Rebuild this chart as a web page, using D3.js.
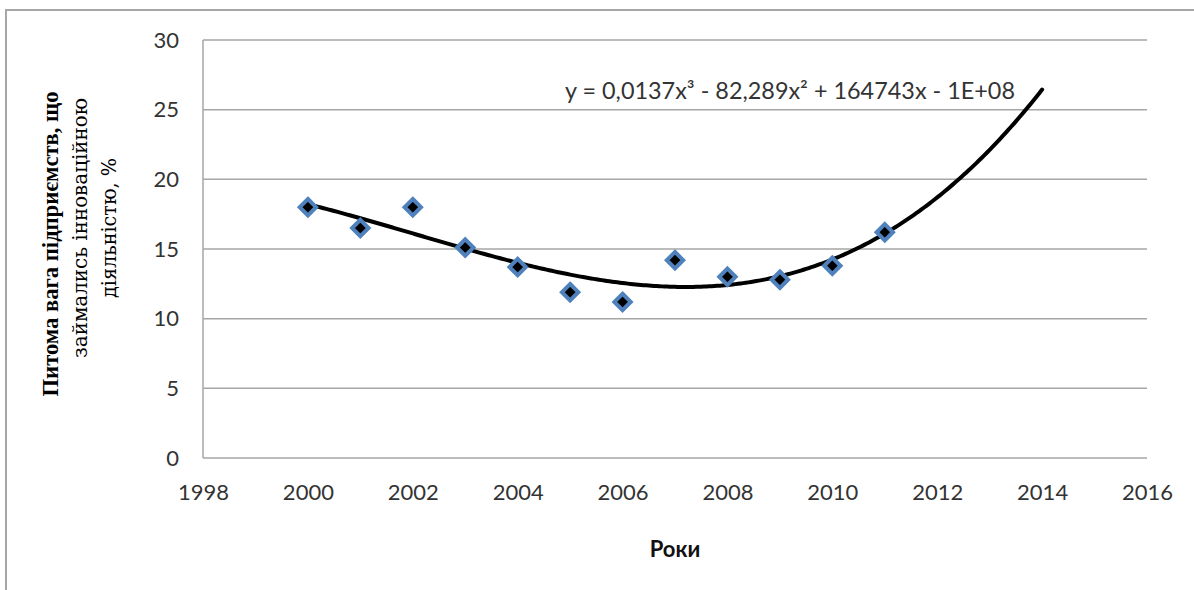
<!DOCTYPE html>
<html><head><meta charset="utf-8">
<script src="https://cdn.jsdelivr.net/npm/d3@7"></script>
<style>body{margin:0;background:#fff}svg{display:block}</style>
</head><body>
<svg id="c" width="1194" height="590"></svg>
<script>
const years = [2000,2001,2002,2003,2004,2005,2006,2007,2008,2009,2010,2011];
const shares = [18.0,16.5,18.0,15.1,13.7,11.9,11.2,14.2,13.0,12.8,13.8,16.2];
const xTicks = [1998,2000,2002,2004,2006,2008,2010,2012,2014,2016];
const yTicks = [0,5,10,15,20,25,30];
const trendEnd = 2014;
const equation = "y = 0,0137x³ - 82,289x² + 164743x - 1E+08";
const yTitleLines = ["Питома вага підприємств, що","займались інноваційною","діяльністю, %"];
const xTitle = "Роки";

const svg = d3.select("#c");
const L=203, R=1147, T=40, B=458;
const x = d3.scaleLinear().domain([1998,2016]).range([L,R]);
const y = d3.scaleLinear().domain([0,30]).range([B,T]);

svg.append("path").attr("d","M6,590 L6,10 L1194,10").attr("fill","none").attr("stroke","#a6a6a6").attr("stroke-width",2);

svg.append("g").selectAll("line").data(yTicks).join("line")
  .attr("x1",L).attr("x2",R).attr("y1",d=>y(d)).attr("y2",d=>y(d))
  .attr("stroke","#a6a6a6").attr("stroke-width",1.5);
svg.append("line").attr("x1",L).attr("x2",L).attr("y1",T).attr("y2",B).attr("stroke","#a6a6a6").attr("stroke-width",1.5);

const ya = svg.append("g").attr("transform",`translate(${L},0)`)
  .call(d3.axisLeft(y).tickValues(yTicks).tickSize(0).tickPadding(24));
const xa = svg.append("g").attr("transform",`translate(0,${B})`)
  .call(d3.axisBottom(x).tickValues(xTicks).tickFormat(d3.format("d")).tickSize(0).tickPadding(26));
[ya,xa].forEach(g=>{g.select(".domain").remove();
  g.selectAll("text").attr("font-family","Lato, 'Open Sans', sans-serif").attr("font-size",22).attr("fill","#333");});

const c0 = d3.mean(years);
function fitCubic(xs, ys){
  const n=4, A=Array.from({length:n},()=>Array(n+1).fill(0));
  xs.forEach((xv,i)=>{const t=xv-c0;const p=[1,t,t*t,t*t*t];
    for(let r=0;r<n;r++){for(let c=0;c<n;c++)A[r][c]+=p[r]*p[c];A[r][n]+=p[r]*ys[i];}});
  for(let i=0;i<n;i++){let m=i;for(let r=i+1;r<n;r++)if(Math.abs(A[r][i])>Math.abs(A[m][i]))m=r;
    [A[i],A[m]]=[A[m],A[i]];
    for(let r=0;r<n;r++){if(r===i)continue;const f=A[r][i]/A[i][i];for(let c=i;c<=n;c++)A[r][c]-=f*A[i][c];}}
  return A.map((row,i)=>row[n]/row[i]);
}
const coef = fitCubic(years, shares);
const f = xv=>{const t=xv-c0;return coef[0]+coef[1]*t+coef[2]*t*t+coef[3]*t*t*t;};
const curveX = d3.range(years[0], trendEnd+0.0001, 0.05);
svg.append("path").datum(curveX)
  .attr("d", d3.line().x(d=>x(d)).y(d=>y(f(d))))
  .attr("fill","none").attr("stroke","#000").attr("stroke-width",4).attr("stroke-linecap","round");

const sym = d3.symbol().type(d3.symbolDiamond2).size(170);
svg.append("g").selectAll("path").data(years).join("path")
  .attr("transform",(d,i)=>`translate(${x(d)},${y(shares[i])})`)
  .attr("d",sym).attr("fill","#000").attr("stroke","#4f81bd").attr("stroke-width",4);

svg.append("text").attr("x",565).attr("y",99).text(equation)
  .attr("font-family","Lato, 'Open Sans', sans-serif").attr("font-size",23.5).attr("fill","#333")
  .attr("textLength",450).attr("lengthAdjust","spacingAndGlyphs");

svg.append("text").attr("x",675).attr("y",557).attr("text-anchor","middle").text(xTitle)
  .attr("font-family","Lato, 'Open Sans', sans-serif").attr("font-size",22).attr("font-weight","bold").attr("fill","#111");

const fams = ["'Liberation Serif', serif","'DejaVu Serif', serif","'DejaVu Serif', serif"];
const yt = svg.append("text").attr("transform","translate(58,240) rotate(-90)")
  .attr("text-anchor","middle").attr("fill","#000");
const lens = [305,260,140];
yTitleLines.forEach((s,i)=>{
  yt.append("tspan").attr("x",i===0?-4:12).attr("dy",i===0?0:29).text(s)
    .style("font-family",fams[i]).attr("font-size",i===0?23:21)
    .attr("font-weight",i===0?"bold":"normal")
    .attr("textLength",lens[i]).attr("lengthAdjust","spacingAndGlyphs");
});
</script>
</body></html>
